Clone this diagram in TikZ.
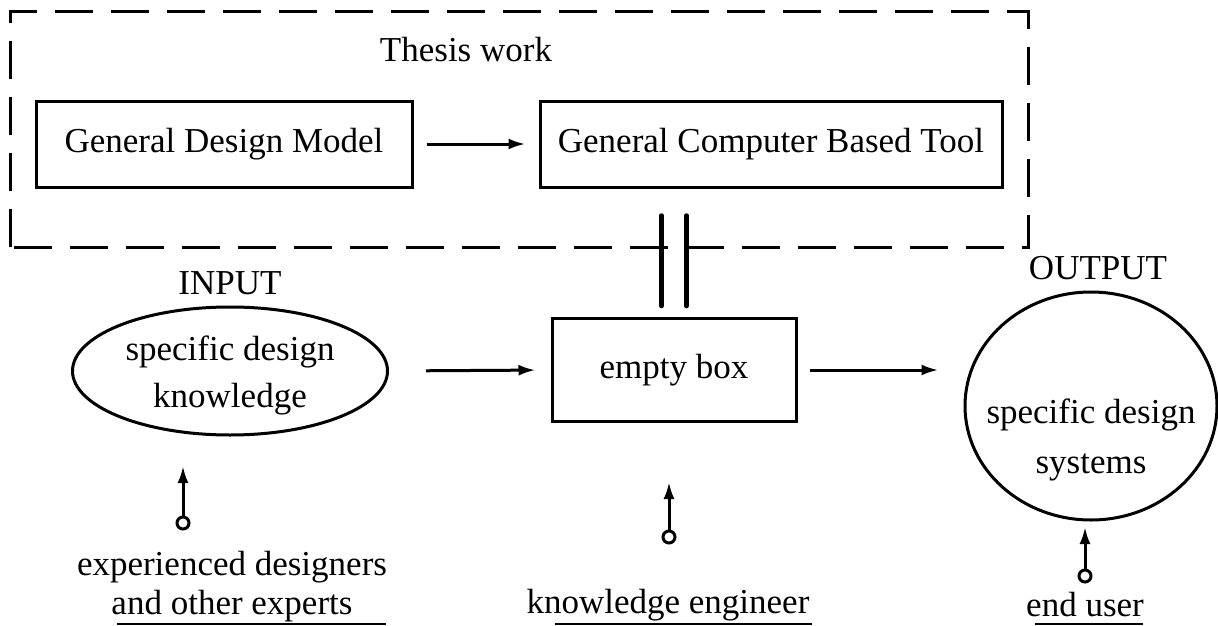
\documentclass[tikz,border=0pt]{standalone}
\usepackage{fontspec}
\setmainfont{Liberation Serif}
\usetikzlibrary{arrows.meta,shapes.geometric}
\begin{document}
\begin{tikzpicture}[x=1pt,y=-1pt,
  every node/.style={font=\fontsize{35}{47}\selectfont},
  boxnode/.style={draw,line width=3pt,inner sep=0pt},
  ovalnode/.style={draw,ellipse,line width=3pt,inner sep=0pt,align=center},
  txt/.style={inner sep=0pt,align=center},
  conn/.style={line width=3pt,-{Latex[length=17pt,width=11pt]}},
  dbl/.style={line width=4.5pt,line cap=round},
  src/.style={circle,draw,line width=3pt,inner sep=0pt,minimum size=12pt},
  uline/.style={line width=2.5pt},
  frame/.style={line width=3pt,dash pattern=on 38pt off 18pt}
]
\useasboundingbox (0,0) rectangle (1218,626);
% dashed frame
\draw[frame] (10,247) -- (10,12) -- (1028,12) -- (1028,247) -- cycle;
\node[txt] (thesis) at (466,50) {Thesis work};
% top boxes
\node[boxnode,minimum width=376pt,minimum height=86pt] (gdm) at (224,144) {General Design Model};
\node[boxnode,minimum width=462pt,minimum height=86pt] (gcbt) at (771,144) {General Computer Based Tool};
\draw[conn,shorten <=13pt,shorten >=13pt] (gdm) -- (gcbt);
% middle row
\node[txt] (input) at (230,283) {INPUT};
\node[ovalnode,minimum width=315pt,minimum height=128pt] (sdk) at (230,371) {};
\node[txt] (sdktext) at (230,375) {specific design\\knowledge};
\node[boxnode,minimum width=244pt,minimum height=103pt] (ebox) at (674,370) {empty box};
\node[txt] (output) at (1098,268) {OUTPUT};
\node[ovalnode,minimum width=252pt,minimum height=228pt] (sds) at (1091,406) {};
\node[txt] (sdstext) at (1091,440) {specific design\\[3pt]systems};
\draw[conn,shorten <=37pt,shorten >=15pt] (sdk.east) -- (ebox.west);
\draw[conn,shorten <=12pt,shorten >=25pt] (ebox.east) -- (ebox.east -| sds.west);
% double link
\draw[dbl,shorten <=11pt,shorten >=27pt] ([xshift=-12.5pt]ebox.north) -- ([xshift=-12.5pt]ebox.north |- gcbt.south);
\draw[dbl,shorten <=11pt,shorten >=27pt] ([xshift=12.5pt]ebox.north) -- ([xshift=12.5pt]ebox.north |- gcbt.south);
% actors
\node[src] (s1) at (183,523) {};
\coordinate (t1) at (183,466);
\draw[conn] (s1) -- (t1);
\node[src] (s2) at (669,537) {};
\coordinate (t2) at (669,482);
\draw[conn] (s2) -- (t2);
\node[src] (s3) at (1085,576) {};
\coordinate (t3) at (1085,527);
\draw[conn] (s3) -- (t3);
\node[txt,font=\fontsize{35}{39}\selectfont] (designers) at (232,587) {experienced designers\\and other experts};
\node[txt] (engineer) at (668,605) {knowledge engineer};
\node[txt] (enduser) at (1085,605) {end user};
\coordinate (u1a) at (117,624); \coordinate (u1b) at (386,624);
\coordinate (u2a) at (555,624); \coordinate (u2b) at (812,624);
\coordinate (u3a) at (1035,624); \coordinate (u3b) at (1143,624);
\draw[uline] (u1a) -- (u1b);
\draw[uline] (u2a) -- (u2b);
\draw[uline] (u3a) -- (u3b);
\end{tikzpicture}
\end{document}
